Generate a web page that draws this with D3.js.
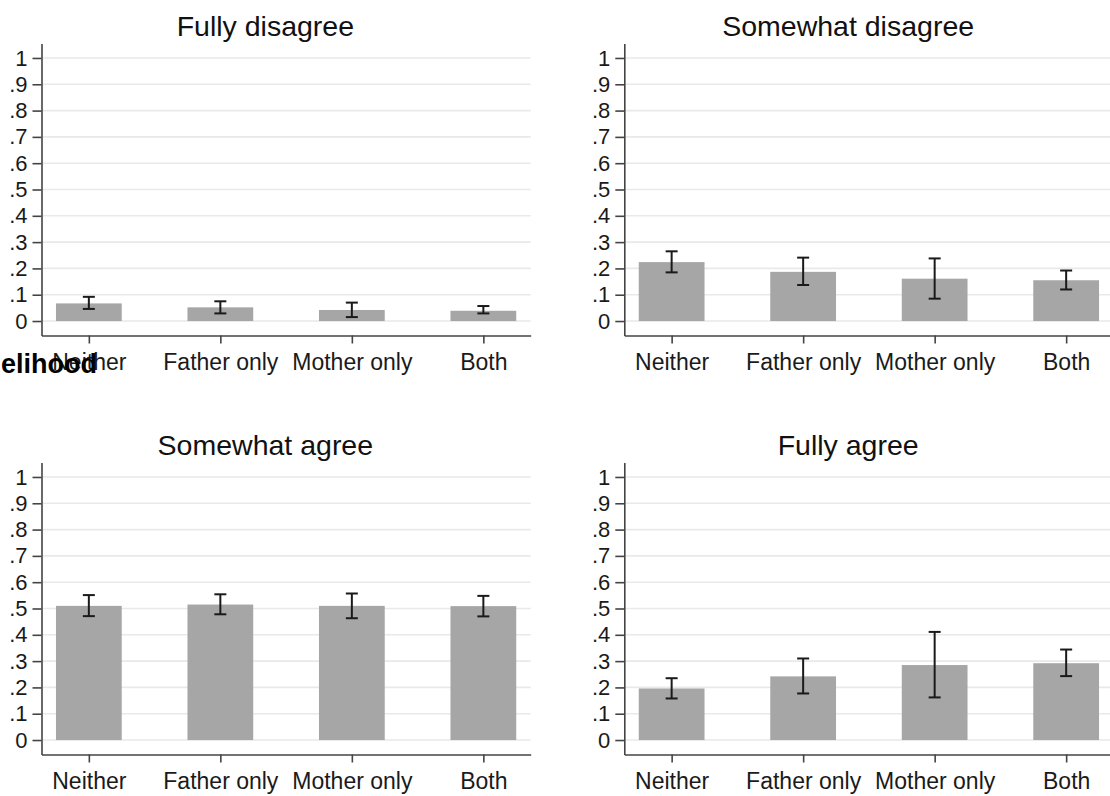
<!DOCTYPE html>
<html>
<head>
<meta charset="utf-8">
<script src="https://cdn.jsdelivr.net/npm/d3@7"></script>
<style>
  body { margin: 0; background: #fff; }
  svg { display: block; font-family: "Liberation Sans", Arial, sans-serif; }
</style>
</head>
<body>
<script>
const W = 1110, H = 796;

const categories = ["Neither", "Father only", "Mother only", "Both"];
const panelTitles = ["Fully disagree", "Somewhat disagree", "Somewhat agree", "Fully agree"];
const yTicks = [0, .1, .2, .3, .4, .5, .6, .7, .8, .9, 1];

// mean share per group, and the ends of the 95% CI
const fullyDisagree = [0.067, 0.052, 0.042, 0.039];
const fullyDisagreeLo = [0.046, 0.029, 0.015, 0.029];
const fullyDisagreeHi = [0.092, 0.075, 0.070, 0.057];

const somewhatDisagree = [0.224, 0.187, 0.161, 0.155];
const somewhatDisagreeLo = [0.185, 0.137, 0.085, 0.120];
const somewhatDisagreeHi = [0.265, 0.241, 0.238, 0.192];

const somewhatAgree = [0.510, 0.515, 0.510, 0.509];
const somewhatAgreeLo = [0.471, 0.478, 0.463, 0.470];
const somewhatAgreeHi = [0.551, 0.554, 0.557, 0.548];

const fullyAgree = [0.196, 0.242, 0.285, 0.292];
const fullyAgreeLo = [0.158, 0.177, 0.162, 0.243];
const fullyAgreeHi = [0.235, 0.310, 0.411, 0.344];

const panels = [
  {title: panelTitles[0], mean: fullyDisagree, lo: fullyDisagreeLo, hi: fullyDisagreeHi, dx: 0, dy: 0},
  {title: panelTitles[1], mean: somewhatDisagree, lo: somewhatDisagreeLo, hi: somewhatDisagreeHi, dx: 582.8, dy: 0},
  {title: panelTitles[2], mean: somewhatAgree, lo: somewhatAgreeLo, hi: somewhatAgreeHi, dx: 0, dy: 419},
  {title: panelTitles[3], mean: fullyAgree, lo: fullyAgreeLo, hi: fullyAgreeHi, dx: 582.8, dy: 419}
];

const plotLeft = 41.5, plotRight = 530.7;

const x = d3.scalePoint().domain(categories).range([plotLeft, plotRight]).padding(0.36);
const y = d3.scaleLinear().domain([-0.055, 1.055]).range([335.5, 43.5]);
const barW = x.step() * 0.5;

const fmt = d => d === 0 ? "0" : d === 1 ? "1" : d3.format(".1f")(d).replace(/^0/, "");

const svg = d3.select("body").append("svg").attr("width", W).attr("height", H);
svg.append("rect").attr("width", W).attr("height", H).attr("fill", "#fff");

panels.forEach(p => {
  const g = svg.append("g").attr("transform", `translate(${p.dx},${p.dy})`);

  // grid
  g.selectAll("line.grid")
    .data(yTicks)
    .enter()
    .append("line")
    .attr("x1", plotLeft).attr("x2", plotRight)
    .attr("y1", d => y(d)).attr("y2", d => y(d))
    .attr("stroke", "#e9e9e9")
    .attr("stroke-width", 1.6);

  const rows = categories.map((c, i) => ({cat: c, m: p.mean[i], lo: p.lo[i], hi: p.hi[i]}));

  g.selectAll("rect.bar")
    .data(rows)
    .enter()
    .append("rect")
    .attr("x", d => x(d.cat) - barW / 2)
    .attr("width", barW)
    .attr("y", d => y(d.m))
    .attr("height", d => y(0) - y(d.m))
    .attr("fill", "#a6a6a6");

  // error bars
  const eb = g.selectAll("g.err").data(rows).enter().append("g")
    .attr("stroke", "#1a1a1a").attr("stroke-width", 2).attr("fill", "none");
  eb.append("line")
    .attr("x1", d => x(d.cat)).attr("x2", d => x(d.cat))
    .attr("y1", d => y(d.lo)).attr("y2", d => y(d.hi));
  eb.append("line")
    .attr("x1", d => x(d.cat) - 6).attr("x2", d => x(d.cat) + 6)
    .attr("y1", d => y(d.lo)).attr("y2", d => y(d.lo));
  eb.append("line")
    .attr("x1", d => x(d.cat) - 6).attr("x2", d => x(d.cat) + 6)
    .attr("y1", d => y(d.hi)).attr("y2", d => y(d.hi));

  // axes
  const ya = g.append("g")
    .attr("transform", `translate(${plotLeft},0)`)
    .call(d3.axisLeft(y).tickValues(yTicks).tickFormat(fmt).tickSize(9).tickSizeOuter(0).tickPadding(5));
  const xa = g.append("g")
    .attr("transform", `translate(0,${y.range()[0]})`)
    .call(d3.axisBottom(x).tickSize(8).tickSizeOuter(0).tickPadding(10));

  [ya, xa].forEach(a => {
    a.select(".domain").attr("stroke", "#444").attr("stroke-width", 1.6);
    a.selectAll(".tick line").attr("stroke", "#444").attr("stroke-width", 1.6);
    a.selectAll("text").attr("fill", "#1a1a1a").attr("font-family", "Liberation Sans, Arial, sans-serif");
  });
  ya.selectAll("text").attr("font-size", "22px");
  xa.selectAll("text").attr("font-size", "23px");

  g.append("text")
    .attr("x", (0 + plotRight) / 2)
    .attr("y", 36)
    .attr("text-anchor", "middle")
    .attr("font-size", "28.5px")
    .attr("fill", "#111")
    .text(p.title);
});

// stray bold label fragment sitting over the first axis
svg.append("text")
  .attr("x", 97)
  .attr("y", 373)
  .attr("text-anchor", "end")
  .attr("font-size", "27px")
  .attr("font-weight", "bold")
  .attr("fill", "#000")
  .text("elihood");
</script>
</body>
</html>
